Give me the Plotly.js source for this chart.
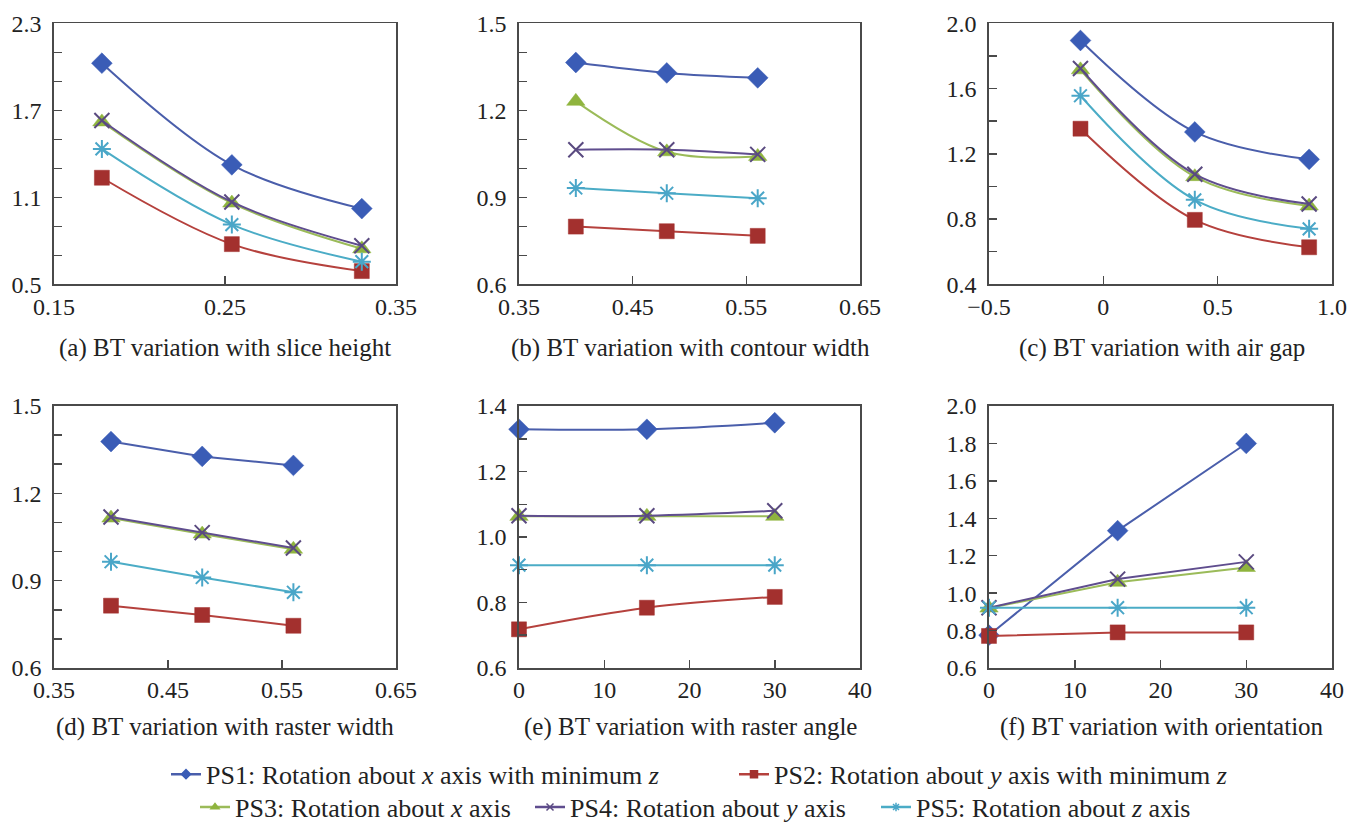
<!DOCTYPE html>
<html>
<head>
<meta charset="utf-8">
<script src="https://cdn.plot.ly/plotly-3.0.1.min.js"></script>
<style>html,body{margin:0;padding:0;background:#fff;}#chart{width:1362px;height:831px;}</style>
</head>
<body>
<div id="chart"></div>
<script>
// ---------------- DATA ----------------
const seriesNames = [
  'PS1: Rotation about <i>x</i> axis with minimum <i>z</i>',
  'PS2: Rotation about <i>y</i> axis with minimum <i>z</i>',
  'PS3: Rotation about <i>x</i> axis',
  'PS4: Rotation about <i>y</i> axis',
  'PS5: Rotation about <i>z</i> axis'
];
const captions = [
  '(a) BT variation with slice height',
  '(b) BT variation with contour width',
  '(c) BT variation with air gap',
  '(d) BT variation with raster width',
  '(e) BT variation with raster angle',
  '(f) BT variation with orientation'
];

// (a) slice height
const xA = [0.178, 0.254, 0.330];
const ps1A = [2.025, 1.324, 1.022];
const ps2A = [1.235, 0.777, 0.591];
const ps3A = [1.620, 1.060, 0.745];
const ps4A = [1.630, 1.068, 0.766];
const ps5A = [1.434, 0.912, 0.656];
// (b) contour width
const xB = [0.40, 0.48, 0.56];
const ps1B = [1.365, 1.329, 1.312];
const ps2B = [0.799, 0.783, 0.767];
const ps3B = [1.231, 1.057, 1.041];
const ps4B = [1.064, 1.064, 1.048];
const ps5B = [0.932, 0.914, 0.897];
// (c) air gap
const xC = [-0.1, 0.4, 0.9];
const ps1C = [1.895, 1.334, 1.166];
const ps2C = [1.354, 0.795, 0.627];
const ps3C = [1.715, 1.060, 0.880];
const ps4C = [1.723, 1.075, 0.892];
const ps5C = [1.556, 0.918, 0.740];
// (d) raster width
const xD = [0.40, 0.48, 0.56];
const ps1D = [1.378, 1.327, 1.296];
const ps2D = [0.814, 0.782, 0.745];
const ps3D = [1.115, 1.060, 1.008];
const ps4D = [1.119, 1.065, 1.012];
const ps5D = [0.965, 0.911, 0.860];
// (e) raster angle
const xE = [0, 15, 30];
const ps1E = [1.329, 1.329, 1.349];
const ps2E = [0.718, 0.784, 0.817];
const ps3E = [1.063, 1.063, 1.063];
const ps4E = [1.065, 1.065, 1.080];
const ps5E = [0.914, 0.914, 0.914];
// (f) orientation
const xF = [0, 15, 30];
const ps1F = [0.775, 1.334, 1.800];
const ps2F = [0.771, 0.790, 0.790];
const ps3F = [0.920, 1.058, 1.137];
const ps4F = [0.922, 1.075, 1.167];
const ps5F = [0.922, 0.922, 0.922];

// tick values / labels
const yTickA = [0.5,0.7,0.9,1.1,1.3,1.5,1.7,1.9,2.1,2.3];
const yTextA = ['0.5','','','1.1','','','1.7','','','2.3'];
const yTickB = [0.6,0.7,0.8,0.9,1.0,1.1,1.2,1.3,1.4,1.5];
const yTextB = ['0.6','','','0.9','','','1.2','','','1.5'];
const yTickC = [0.4,0.6,0.8,1.0,1.2,1.4,1.6,1.8,2.0];
const yTextC = ['0.4','','0.8','','1.2','','1.6','','2.0'];
const yTickE = [0.6,0.7,0.8,0.9,1.0,1.1,1.2,1.3,1.4];
const yTextE = ['0.6','','0.8','','1.0','','1.2','','1.4'];
const yTickF = [0.6,0.8,1.0,1.2,1.4,1.6,1.8,2.0];
const yTextF = ['0.6','0.8','1.0','1.2','1.4','1.6','1.8','2.0'];
const xTickA = [0.15,0.25,0.35];
const xTextA = ['0.15','0.25','0.35'];
const xTickB = [0.35,0.45,0.55,0.65];
const xTextB = ['0.35','0.45','0.55','0.65'];
const xTickC = [-0.5,0,0.5,1.0];
const xTextC = ['\u22120.5','0','0.5','1.0'];
const xTickE = [0,10,20,30,40];
const xTextE = ['0','10','20','30','40'];

// ---------------- STYLE ----------------
const W = 1362, H = 831;
const lineCol = ['#4a5eab', '#b5413d', '#9bbb59', '#5f4d8e', '#4bacc6'];
const markCol = ['#3a5cb6', '#a3302e', '#8fb43e', '#5a4a80', '#4aa6c8'];
const symbols = ['diamond', 'square', 'triangle-up', 'x-thin-open', 'asterisk-open'];
const msize = [16, 15, 16, 15, 15];
const serif = 'Liberation Serif';

const panels = [
  {x: xA, ys: [ps1A, ps2A, ps3A, ps4A, ps5A], shape: 'spline', xr: [0.15, 0.35], yr: [0.5, 2.3], xt: xTickA, xtt: xTextA, yt: yTickA, ytt: yTextA},
  {x: xB, ys: [ps1B, ps2B, ps3B, ps4B, ps5B], shape: 'spline', xr: [0.35, 0.65], yr: [0.6, 1.5], xt: xTickB, xtt: xTextB, yt: yTickB, ytt: yTextB},
  {x: xC, ys: [ps1C, ps2C, ps3C, ps4C, ps5C], shape: 'spline', xr: [-0.5, 1.0], yr: [0.4, 2.0], xt: xTickC, xtt: xTextC, yt: yTickC, ytt: yTextC},
  {x: xD, ys: [ps1D, ps2D, ps3D, ps4D, ps5D], shape: 'linear', xr: [0.35, 0.65], yr: [0.6, 1.5], xt: xTickB, xtt: xTextB, yt: yTickB, ytt: yTextB},
  {x: xE, ys: [ps1E, ps2E, ps3E, ps4E, ps5E], shape: 'spline', xr: [0, 40], yr: [0.6, 1.4], xt: xTickE, xtt: xTextE, yt: yTickE, ytt: yTextE},
  {x: xF, ys: [ps1F, ps2F, ps3F, ps4F, ps5F], shape: 'linear', xr: [0, 40], yr: [0.6, 2.0], xt: xTickE, xtt: xTextE, yt: yTickF, ytt: yTextF}
];

const colX = [[54, 396], [519, 860], [989, 1332]];
const rowY = [[23.5, 286], [408.5, 672]];
const capY = [350, 731];
const capX = [225, 691, 1162];

const traces = [];
const layout = {
  width: W, height: H,
  margin: {l: 0, r: 0, t: 0, b: 0},
  paper_bgcolor: '#ffffff', plot_bgcolor: '#ffffff',
  font: {family: serif, size: 24, color: '#222222'},
  showlegend: true,
  annotations: []
};

panels.forEach((p, i) => {
  const col = i % 3, row = Math.floor(i / 3);
  const xs = i === 0 ? '' : String(i + 1);
  const xa = 'xaxis' + xs, ya = 'yaxis' + xs;
  const common = {
    showline: true, mirror: true, linecolor: '#4a4a4a', linewidth: 1.6,
    showgrid: false, zeroline: false, ticks: 'inside', ticklen: 8, tickwidth: 1.5, tickcolor: '#4a4a4a',
    tickfont: {family: serif, size: 24, color: '#222222'}, tickmode: 'array', fixedrange: true
  };
  layout[xa] = Object.assign({}, common, {
    domain: [colX[col][0] / W, colX[col][1] / W], anchor: 'y' + xs,
    range: p.xr, tickvals: p.xt, ticktext: p.xtt, ticklabelstandoff: 0
  });
  layout[ya] = Object.assign({}, common, {
    domain: [1 - rowY[row][1] / H, 1 - rowY[row][0] / H], anchor: 'x' + xs,
    range: p.yr, tickvals: p.yt, ticktext: p.ytt, ticklabelstandoff: 6
  });
  p.ys.forEach((y, k) => {
    traces.push({
      type: 'scatter', mode: 'lines+markers', x: p.x, y: y,
      xaxis: 'x' + xs, yaxis: 'y' + xs, showlegend: false, cliponaxis: false,
      line: {color: lineCol[k], width: 2, shape: p.shape, smoothing: 1},
      marker: {symbol: symbols[k], size: msize[k], color: markCol[k],
               line: {color: markCol[k], width: (k >= 3 ? 2 : 0.5)}}
    });
  });
  layout.annotations.push({
    xref: 'paper', yref: 'paper', x: capX[col] / W, y: 1 - capY[row] / H,
    xanchor: 'center', yanchor: 'middle', showarrow: false,
    text: captions[i], font: {family: serif, size: 25, color: '#222222'}
  });
});

const legPos = [[166, 779], [734, 779], [195, 812], [530, 812], [876, 812]];
seriesNames.forEach((nm, k) => {
  const lid = k === 0 ? 'legend' : 'legend' + (k + 1);
  traces.push({
    type: 'scatter', mode: 'lines+markers', x: [null], y: [null], name: nm,
    xaxis: 'x', yaxis: 'y', showlegend: true, legend: lid,
    line: {color: lineCol[k], width: 2.5},
    marker: {symbol: symbols[k], size: 7, color: markCol[k], line: {color: markCol[k], width: 1.5}}
  });
  layout[lid] = {
    x: legPos[k][0] / W, y: 1 - legPos[k][1] / H, xanchor: 'left', yanchor: 'middle',
    orientation: 'h', bgcolor: 'rgba(0,0,0,0)', borderwidth: 0,
    font: {family: serif, size: 26, color: '#222222'}
  };
});

Plotly.newPlot('chart', traces, layout, {displayModeBar: false, staticPlot: true});
</script>
</body>
</html>
